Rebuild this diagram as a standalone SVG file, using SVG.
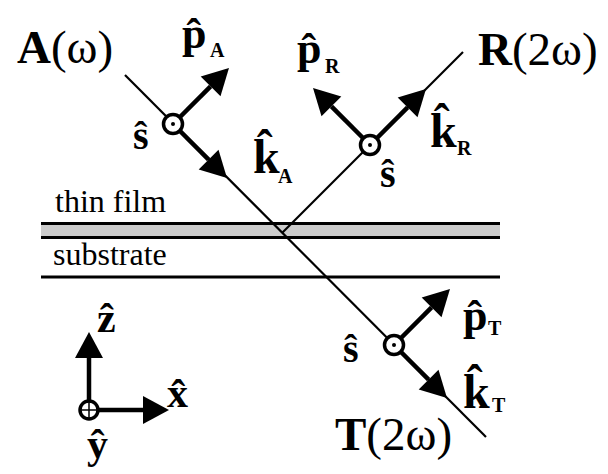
<svg xmlns="http://www.w3.org/2000/svg" width="608" height="474" viewBox="0 0 608 474">
<style>
.thin{stroke:#000;stroke-width:2.2;fill:none}
.thick{stroke:#000;stroke-width:4.5;fill:none;marker-end:url(#head)}
.ring{fill:#fff;stroke:#000;stroke-width:3.5}
.dot{fill:#000}
.big{font-family:"Liberation Serif","Times New Roman",serif;font-size:47px;fill:#000}
.bold{font-weight:bold}
.lbl{font-family:"Liberation Serif","Times New Roman",serif;font-weight:bold;fill:#000}
.sub{font-size:20px}
.layer{font-family:"Liberation Serif","Times New Roman",serif;font-size:32px;fill:#000}
.edge{stroke:#000;stroke-width:3}
</style>
<defs>
<marker id="head" markerUnits="userSpaceOnUse" markerWidth="26" markerHeight="28" refX="0" refY="14" orient="auto" overflow="visible">
<path d="M0,0 L26,14 L0,28 Z" fill="#000"/>
</marker>
</defs>
<rect width="608" height="474" fill="#fff"/>

<g id="film">
<rect x="41" y="223.5" width="459" height="14" fill="#cccccc"/>
<line class="edge" x1="41" y1="223.5" x2="500" y2="223.5"/>
<line class="edge" x1="41" y1="237.5" x2="500" y2="237.5"/>
<text class="layer" x="55" y="212">thin film</text>
</g>
<g id="substrate">
<line class="edge" x1="41" y1="277" x2="500" y2="277"/>
<text class="layer" x="53" y="265">substrate</text>
</g>

<g id="connectors">
<line class="thin" x1="125" y1="75" x2="486" y2="437"/>
<line class="thin" x1="463" y1="52" x2="282" y2="233"/>
<line class="thick" x1="173" y1="124" x2="210.6" y2="86.4"/>
<line class="thick" x1="173" y1="124" x2="208.6" y2="159.6"/>
<line class="thick" x1="370" y1="145" x2="407.6" y2="107.4"/>
<line class="thick" x1="370" y1="145" x2="331.4" y2="106.4"/>
<line class="thick" x1="394" y1="345" x2="431.6" y2="307.4"/>
<line class="thick" x1="394" y1="345" x2="428.6" y2="379.6"/>
<line class="thick" x1="89" y1="410" x2="89" y2="358"/>
<line class="thick" x1="89" y1="410" x2="143" y2="410"/>
</g>

<g id="beam-A">
<circle class="ring" cx="173" cy="124" r="9.5"/>
<circle class="dot" cx="173" cy="124" r="2"/>
<text class="big" x="17" y="63"><tspan class="bold">A</tspan>(ω)</text>
<text class="lbl" x="182" y="48" font-size="44">p̂<tspan class="sub" x="210" y="57">A</tspan></text>
<text class="lbl" x="133" y="149" font-size="40">ŝ</text>
<text class="lbl" x="253" y="173" font-size="48">k̂<tspan class="sub" x="278" y="183">A</tspan></text>
</g>

<g id="beam-R">
<circle class="ring" cx="370" cy="145" r="9.5"/>
<circle class="dot" cx="370" cy="145" r="2"/>
<text class="big" x="478" y="65"><tspan class="bold">R</tspan>(2ω)</text>
<text class="lbl" x="297" y="63" font-size="44">p̂<tspan class="sub" x="325" y="73">R</tspan></text>
<text class="lbl" x="430" y="147" font-size="48">k̂<tspan class="sub" x="457" y="155">R</tspan></text>
<text class="lbl" x="380" y="187" font-size="40">ŝ</text>
</g>

<g id="beam-T">
<circle class="ring" cx="394" cy="345" r="9.5"/>
<circle class="dot" cx="394" cy="345" r="2"/>
<text class="big" x="335" y="450"><tspan class="bold">T</tspan>(2ω)</text>
<text class="lbl" x="463" y="330" font-size="44">p̂<tspan class="sub" x="488" y="335">T</tspan></text>
<text class="lbl" x="343" y="362" font-size="40">ŝ</text>
<text class="lbl" x="463" y="408" font-size="48">k̂<tspan class="sub" x="492" y="412">T</tspan></text>
</g>

<g id="axes">
<circle class="ring" cx="89" cy="410" r="9" stroke-width="4"/>
<line x1="81" y1="410" x2="97" y2="410" stroke="#000" stroke-width="1.5"/>
<line x1="89" y1="402" x2="89" y2="418" stroke="#000" stroke-width="1.5"/>
<text class="lbl" x="97" y="332" font-size="42">ẑ</text>
<text class="lbl" x="167" y="407" font-size="42">x̂</text>
<text class="lbl" x="87" y="458" font-size="42">ŷ</text>
</g>
</svg>
